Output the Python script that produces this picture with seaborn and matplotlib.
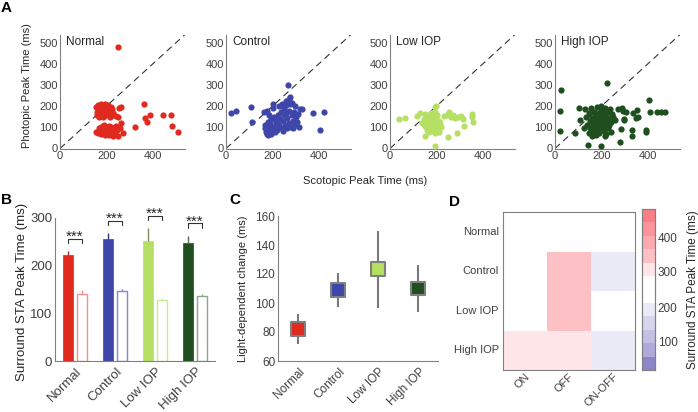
import numpy as np
import pandas as pd
import matplotlib
matplotlib.use("Agg")
import matplotlib.pyplot as plt
import matplotlib.transforms as mtransforms
from matplotlib.colors import ListedColormap
import seaborn as sns

# ---------------- data ----------------
groups = ["Normal", "Control", "Low IOP", "High IOP"]
group_colors = ["#e0291f", "#3e47a9", "#b6e063", "#1f4f1f"]
open_edges = ["#f2918c", "#8388d2", "#c9eb8f", "#8aa68a"]
err_colors = ["#b3261d", "#2c3285", "#7d8f5a", "#4f6f4f"]

# panel A: scotopic (x) vs photopic (y) peak times, ms
normal_x = [155, 160, 165, 168, 172, 175, 178, 180, 182, 185, 188, 190, 192, 195, 198, 200, 202, 205, 208, 210,
            212, 215, 218, 220, 222, 225, 228, 230, 160, 170, 185, 240, 250, 255, 262, 195, 175, 200, 210, 188,
            155, 162, 168, 172, 175, 178, 182, 185, 188, 190, 193, 196, 199, 202, 205, 208, 210, 213, 216, 219,
            222, 225, 228, 232, 236, 240, 245, 250, 258, 262, 272, 180, 200, 215, 190, 230,
            250, 325, 365, 368, 375, 390, 445, 480, 482, 510]
normal_y = [195, 175, 205, 185, 165, 195, 210, 180, 160, 190, 170, 200, 155, 185, 175, 195, 165, 180, 205, 160,
            190, 175, 150, 195, 165, 185, 170, 158, 160, 148, 150, 152, 148, 192, 196, 212, 172, 185, 170, 195,
            78, 72, 95, 82, 100, 68, 88, 105, 75, 95, 62, 85, 102, 72, 92, 80, 108, 66, 90, 78,
            100, 85, 70, 95, 80, 105, 90, 60, 98, 120, 75, 80, 90, 100, 110, 58,
            480, 100, 210, 145, 125, 160, 160, 160, 105, 78]

control_x = [20, 45, 110, 112, 165, 175, 180, 168, 170, 172, 175, 178, 180, 183, 185, 188, 190, 192, 195, 198,
             200, 202, 205, 208, 210, 215, 218, 222, 225, 228, 230, 235, 238, 240, 242, 245, 248, 250, 252, 255,
             258, 260, 262, 265, 268, 270, 272, 274, 276, 278, 280, 283, 285, 288, 290, 293, 296, 300, 303, 306,
             310, 315, 320, 330, 375, 405, 422, 185, 195, 210, 225, 260]
control_y = [170, 180, 195, 125, 175, 180, 125, 110, 95, 80, 70, 100, 88, 62, 105, 78, 92, 115, 70, 85,
             100, 210, 190, 150, 80, 95, 120, 88, 160, 200, 105, 140, 175, 95, 210, 85, 130, 190, 160, 110,
             205, 225, 95, 145, 300, 235, 180, 120, 210, 245, 100, 160, 215, 130, 95, 175, 110, 200, 150, 125,
             165, 100, 185, 185, 170, 88, 175, 160, 140, 135, 115, 170]

lowiop_x = [39, 64, 117, 131, 153, 165, 193, 200, 150, 193, 250, 290, 321, 353, 355, 357, 233, 253, 271, 293,
            314, 305, 280, 262, 245,
            140, 145, 150, 155, 158, 160, 163, 166, 168, 170, 172, 175, 178, 180, 182, 185, 188, 190, 192, 195,
            198, 200, 203, 205, 208, 210, 213, 216, 220, 188, 176, 196]
lowiop_y = [142, 143, 152, 167, 164, 160, 195, 200, 58, 12, 55, 75, 108, 165, 150, 125, 155, 172, 160, 148,
            141, 155, 145, 150, 160,
            120, 140, 105, 130, 90, 150, 115, 100, 135, 80, 120, 145, 95, 110, 130, 85, 155, 100, 125, 75,
            140, 115, 90, 160, 105, 130, 80, 120, 100, 165, 170, 175]

highiop_x = [26, 23, 23, 87, 104, 109, 226, 406, 411, 440, 456, 476, 143, 197, 280, 333, 333, 393, 395, 351,
             354, 360, 294, 300, 261, 283, 290, 305, 335, 298, 250, 270, 240,
             126, 130, 135, 140, 145, 148, 150, 153, 156, 158, 160, 162, 165, 168, 170, 172, 175, 178, 180, 182,
             185, 188, 190, 192, 195, 198, 200, 202, 205, 208, 210, 212, 215, 218, 220, 222, 225, 228, 230, 233,
             236, 240, 243, 247, 185, 175, 200, 215, 190, 165, 205, 230]
highiop_y = [278, 180, 81, 75, 191, 133, 308, 231, 172, 172, 172, 172, 16, 11, 31, 58, 86, 86, 80, 145,
             184, 150, 180, 136, 136, 91, 190, 175, 170, 140, 150, 185, 125,
             95, 185, 150, 110, 75, 170, 130, 95, 190, 60, 145, 115, 80, 175, 100, 155, 65, 125, 195, 90,
             140, 110, 170, 75, 130, 200, 95, 160, 115, 180, 85, 140, 105, 190, 70, 155, 125, 95, 175, 110,
             185, 80, 145, 165, 160, 85, 185, 60, 100, 135, 145, 140]

scatter_x = [normal_x, control_x, lowiop_x, highiop_x]
scatter_y = [normal_y, control_y, lowiop_y, highiop_y]

# panel B: surround STA peak time, scotopic (filled) vs photopic (open)
scotopic_mean = [222, 255, 251, 246]
scotopic_err = [8, 12, 27, 16]
photopic_mean = [141, 147, 128, 137]
photopic_err = [7, 4, 3, 4]

# panel C: light-dependent change, mean and interval
change_mean = [82, 109, 123.5, 110]
change_low = [71.5, 97.5, 96.5, 94]
change_high = [92.5, 121, 150, 126]

# panel D: surround STA peak time by cell type
cell_types = ["ON", "OFF", "ON-OFF"]
peak_on = [240, 245, 255, 305]
peak_off = [260, 345, 345, 305]
peak_onoff = [235, 190, 230, 190]

band_colors = ["#8a86c8", "#afaad9", "#c3c0e4", "#d7d5ee", "#ebebf7", "#ffffff",
               "#ffffff", "#fee6e8", "#fdc0c4", "#fcaab0", "#fb959b", "#fa7e86"]

# ---------------- style ----------------
sns.set_theme(style="white")
plt.rcParams["font.family"] = ["Liberation Sans", "DejaVu Sans"]
plt.rcParams["axes.edgecolor"] = "#808080"
plt.rcParams["axes.linewidth"] = 0.8
plt.rcParams["xtick.color"] = "#808080"
plt.rcParams["ytick.color"] = "#808080"
plt.rcParams["xtick.labelcolor"] = "#404040"
plt.rcParams["ytick.labelcolor"] = "#404040"
plt.rcParams["text.color"] = "#262626"
plt.rcParams["axes.labelcolor"] = "#262626"

W, H = 698, 412
fig = plt.figure(figsize=(W / 100, H / 100), dpi=100)


def px_axes(left, top, right, bottom):
    return fig.add_axes([left / W, 1 - bottom / H, (right - left) / W, (bottom - top) / H])


def shift_labels(ax, dx, dy):
    off = mtransforms.ScaledTranslation(dx / 100, -dy / 100, fig.dpi_scale_trans)
    for lbl in ax.get_xticklabels():
        lbl.set_transform(lbl.get_transform() + off)


# ---------------- panel A ----------------
lefts = [60, 226, 390, 555]
for i, g in enumerate(groups):
    ax = px_axes(lefts[i], 34.5, lefts[i] + 125, 148.5)
    ax.plot([0, 540], [0, 540], ls=(0, (6, 4)), color="#333333", lw=0.8, zorder=1)
    sns.scatterplot(x=scatter_x[i], y=scatter_y[i], color=group_colors[i], s=20,
                    linewidth=0, ax=ax, zorder=3)
    ax.set_xlim(0, 540)
    ax.set_ylim(0, 540)
    ax.set_xticks([0, 200, 400])
    ax.set_yticks([0, 100, 200, 300, 400, 500])
    ax.tick_params(direction="in", length=2, labelsize=8, pad=1.5)
    sns.despine(ax=ax)
    ax.text(0.05, 0.99, g, transform=ax.transAxes, ha="left", va="top", fontsize=8.5)
    if i == 0:
        ax.set_ylabel("Photopic Peak Time (ms)", fontsize=8)
        ax.yaxis.set_label_coords(-0.22, 0.55)

fig.text(365 / W, 1 - 181 / H, "Scotopic Peak Time (ms)", ha="center", va="center", fontsize=8)

# ---------------- panel B ----------------
axb = px_axes(55, 217.7, 215, 361)
df_b = pd.DataFrame({
    "group": groups * 2,
    "light": ["Scotopic"] * 4 + ["Photopic"] * 4,
    "peak": scotopic_mean + photopic_mean,
})
sns.barplot(data=df_b, x="group", y="peak", hue="light", order=groups,
            hue_order=["Scotopic", "Photopic"], errorbar=None, width=0.68, gap=0.25,
            legend=False, ax=axb)

bars = sorted(axb.patches, key=lambda p: p.get_x())
for k, p in enumerate(bars):
    gi = k // 2
    cx = p.get_x() + p.get_width() / 2
    if k % 2 == 0:
        p.set_facecolor(group_colors[gi])
        p.set_edgecolor(group_colors[gi])
        p.set_linewidth(0.5)
        axb.vlines(cx, scotopic_mean[gi], scotopic_mean[gi] + scotopic_err[gi],
                   color=err_colors[gi], lw=1, zorder=3)
    else:
        p.set_facecolor("white")
        p.set_edgecolor(open_edges[gi])
        p.set_linewidth(1.0)
        axb.vlines(cx, photopic_mean[gi], photopic_mean[gi] + photopic_err[gi],
                   color=open_edges[gi], lw=1, zorder=3)

for gi in range(4):
    x1 = bars[2 * gi].get_x() + bars[2 * gi].get_width() / 2
    x2 = bars[2 * gi + 1].get_x() + bars[2 * gi + 1].get_width() / 2
    bot = scotopic_mean[gi] + scotopic_err[gi] + 17
    top = bot + 9
    axb.plot([x1, x1, x2, x2], [bot, top, top, bot], color="#333333", lw=0.8, clip_on=False)
    axb.text((x1 + x2) / 2, top + 4, "***", ha="center", va="center", fontsize=11,
             color="#262626", clip_on=False)

axb.set_xlim(-0.5, 3.5)
axb.set_ylim(0, 300)
axb.set_yticks([0, 100, 200, 300])
axb.set_xlabel("")
axb.set_ylabel("Surround STA Peak Time (ms)", fontsize=9.5)
axb.yaxis.set_label_coords(-0.17, 0.48)
axb.tick_params(direction="in", length=2, labelsize=9.5, pad=2)
axb.set_xticks(range(4))
axb.set_xticklabels(groups, rotation=45, ha="right", va="center", rotation_mode="anchor")
shift_labels(axb, 5, 6)
sns.despine(ax=axb)

# ---------------- panel C ----------------
axc = px_axes(278, 216, 438, 361)
axc.vlines(groups, change_low, change_high, color="#7a7a7a", lw=1.5, zorder=2)
sns.scatterplot(x=groups, y=change_mean, hue=groups, palette=group_colors, marker="s",
                s=95, edgecolor="#7f7f7f", linewidth=1.5, legend=False, ax=axc, zorder=3)
axc.set_xlim(-0.5, 3.5)
axc.set_ylim(60, 160)
axc.set_yticks([60, 80, 100, 120, 140, 160])
axc.set_ylabel("Light-dependent change (ms)", fontsize=8)
axc.yaxis.set_label_coords(-0.19, 0.5)
axc.tick_params(direction="in", length=2, labelsize=8.5, pad=2)
axc.set_xticks(range(4))
axc.set_xticklabels(groups, rotation=45, ha="right", va="center", rotation_mode="anchor")
shift_labels(axc, 5, 6)
sns.despine(ax=axc)

# ---------------- panel D ----------------
axd = px_axes(503, 212, 635, 370)
cax = px_axes(642, 209, 655, 370)
df_d = pd.DataFrame({"ON": peak_on, "OFF": peak_off, "ON-OFF": peak_onoff}, index=groups)
df_d = df_d[cell_types]
sns.heatmap(df_d, cmap=ListedColormap(band_colors), vmin=20, vmax=480, ax=axd, cbar_ax=cax)
for s in axd.spines.values():
    s.set_visible(True)
    s.set_color("#808080")
    s.set_linewidth(0.8)
axd.tick_params(direction="in", length=2, top=True, right=True, labelsize=8, pad=3,
                color="#808080")
axd.set_yticklabels(groups, rotation=0)
axd.set_xticklabels(cell_types, rotation=45, ha="right", va="center", rotation_mode="anchor")
shift_labels(axd, 3, 1)
axd.set_xlabel("")
axd.set_ylabel("")

cax.set_yticks([100, 200, 300, 400])
cax.tick_params(direction="in", length=2, labelsize=8.5, pad=2, color="#808080")
cax.set_ylabel("Surround STA Peak Time (ms)", fontsize=8.5)
cax.yaxis.set_label_position("right")
cax.yaxis.set_label_coords(3.45, 0.5)
for s in cax.spines.values():
    s.set_visible(True)
    s.set_color("#808080")
    s.set_linewidth(0.8)
cbar = axd.collections[0].colorbar
cbar.outline.set_visible(True)
cbar.outline.set_edgecolor("#808080")
cbar.outline.set_linewidth(0.8)

# ---------------- panel letters ----------------
for letter, (x, y) in {"A": (1, 8), "B": (1, 200), "C": (229, 200), "D": (449, 202)}.items():
    fig.text(x / W, 1 - y / H, letter, fontsize=11, fontweight="bold", color="black",
             ha="left", va="center")

fig.savefig("out.png", dpi=100)
